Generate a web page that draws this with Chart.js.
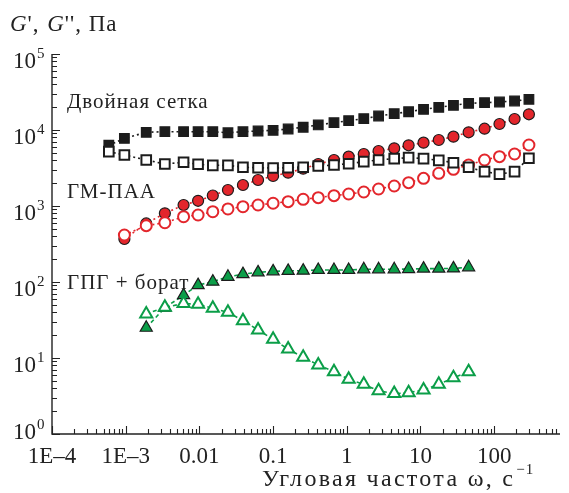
<!DOCTYPE html>
<html>
<head>
<meta charset="utf-8">
<script src="https://cdn.jsdelivr.net/npm/chart.js@4.4.0/dist/chart.umd.min.js"></script>
<style>
  html, body { margin: 0; padding: 0; background: #fff; }
</style>
</head>
<body>
<canvas id="moduliChart" width="569" height="493"></canvas>
<script>
// angular frequency, 1/s
const freqDouble = [0.00059, 0.00096, 0.0019, 0.0034, 0.0061, 0.0096, 0.0152, 0.0244, 0.039, 0.0625,
  0.1, 0.16, 0.256, 0.41, 0.67, 1.06, 1.7, 2.7, 4.4, 6.9, 11, 17.7, 28, 45, 74, 118, 189, 296];
const freqGm = [0.00096, 0.0019, 0.0034, 0.0061, 0.0096, 0.0152, 0.0244, 0.039, 0.0625,
  0.1, 0.16, 0.256, 0.41, 0.67, 1.06, 1.7, 2.7, 4.4, 6.9, 11, 17.7, 28, 45, 74, 118, 189, 296];
const freqGpg = [0.0019, 0.0034, 0.0061, 0.0096, 0.0152, 0.0244, 0.039, 0.0625,
  0.1, 0.16, 0.256, 0.41, 0.67, 1.06, 1.7, 2.7, 4.4, 6.9, 11, 17.7, 28, 45];

// moduli, Pa
const doubleG1 = [6300, 7760, 9330, 9500, 9500, 9500, 9500, 9200, 9500, 9700, 9900, 10300, 10860, 11650,
  12480, 13250, 14090, 15280, 16380, 17400, 18720, 19890, 21130, 22440, 22860, 23350, 24100, 25350];
const doubleG2 = [5190, 4690, 4030, 3570, 3760, 3540, 3430, 3430, 3230, 3190, 3160, 3190, 3230, 3360,
  3460, 3600, 3830, 4030, 4200, 4330, 4200, 3990, 3710, 3230, 2830, 2630, 2830, 4250];
const gmG1 = [368, 589, 802, 1031, 1171, 1374, 1624, 1889, 2198, 2483, 2741, 3098, 3570, 4030,
  4460, 4835, 5290, 5740, 6290, 6810, 7390, 8170, 9330, 10400, 12000, 13960, 16100];
const gmG2 = [415, 551, 603, 723, 762, 841, 914, 979, 1031, 1086, 1140, 1225, 1288, 1368,
  1439, 1529, 1674, 1833, 2027, 2313, 2693, 3040, 3460, 4030, 4460, 4835, 6350];
const gpgG1 = [25, 46, 67, 91, 101, 117, 127, 134, 138, 140, 141, 144, 144, 144, 147, 147, 147, 148, 150, 150, 151, 156];
const gpgG2 = [38, 46.5, 52, 51, 45, 40, 31, 23.4, 17.6, 13.1, 10.2, 8.1, 6.6, 5.25, 4.5, 3.7, 3.4, 3.5, 3.8, 4.5, 5.5, 6.6];

const xTickLabels = ['1E\u20134', '1E\u20133', '0.01', '0.1', '1', '10', '100'];
const yExponents = ['0', '1', '2', '3', '4', '5'];
const seriesNames = ['Двойная сетка', 'ГМ-ПАА', 'ГПГ + борат'];

const RED = '#e3262c';
const GREEN = '#0b9e48';
const BLACK = '#1c1c1c';
const SERIF = '"Liberation Serif", "DejaVu Serif", serif';

const toPoints = (xs, ys) => ys.map((y, i) => ({ x: xs[i], y: y }));

const makeSet = (label, xs, ys, style, color, filled, dash) => ({
  label: label,
  data: toPoints(xs, ys),
  borderColor: color,
  borderWidth: 1.6,
  borderDash: dash,
  pointStyle: style,
  pointRadius: style === 'rect' ? 6.8 : (style === 'triangle' ? 7 : 5.5),
  pointBackgroundColor: filled ? color : '#fff',
  pointBorderColor: filled ? BLACK : color,
  pointBorderWidth: filled ? 1.2 : 2,
  tension: 0,
  fill: false,
});

// the source font sets wider than Liberation Serif: add letter spacing
const fillSpaced = (ctx, text, x, y, spacing) => {
  ctx.save();
  ctx.letterSpacing = spacing + 'px';
  ctx.fillText(text, x, y);
  const w = ctx.measureText(text).width;
  ctx.restore();
  return w;
};

// draws axes, inward log ticks and all the text
const axesPlugin = {
  id: 'axesPlugin',
  afterDraw(chart) {
    const ctx = chart.ctx;
    const xs = chart.scales.x;
    const ys = chart.scales.y;
    const area = chart.chartArea;

    ctx.save();
    ctx.strokeStyle = '#222';
    ctx.lineWidth = 1.4;
    ctx.beginPath();
    ctx.moveTo(area.left, area.top);
    ctx.lineTo(area.left, area.bottom);
    ctx.lineTo(area.right, area.bottom);
    ctx.stroke();

    ctx.lineWidth = 1.1;
    ctx.beginPath();
    for (let e = 0; e <= 5; e++) {
      for (let m = 1; m <= 9; m++) {
        if (e === 5 && m > 1) break;
        const py = Math.round(ys.getPixelForValue(m * Math.pow(10, e))) + 0.5;
        const len = m === 1 ? 8 : 5;
        ctx.moveTo(area.left, py);
        ctx.lineTo(area.left + len, py);
      }
    }
    for (let e = -4; e <= 2; e++) {
      for (let m = 1; m <= 9; m++) {
        const v = m * Math.pow(10, e);
        if (v > xs.max) break;
        const px = Math.round(xs.getPixelForValue(v)) + 0.5;
        const len = m === 1 ? 8 : 5;
        ctx.moveTo(px, area.bottom);
        ctx.lineTo(px, area.bottom - len);
      }
    }
    ctx.stroke();

    ctx.fillStyle = '#222';
    ctx.textBaseline = 'alphabetic';
    // y tick labels 10^n
    yExponents.forEach((ex, i) => {
      const py = ys.getPixelForValue(Math.pow(10, i));
      const base = i === 0 ? py + 5 : py + 14;
      ctx.font = '23px ' + SERIF;
      ctx.textAlign = 'right';
      ctx.fillText('10', 36, base);
      ctx.font = '15px ' + SERIF;
      ctx.textAlign = 'left';
      ctx.fillText(ex, 37, base - 10);
    });

    // x tick labels
    ctx.font = '23px ' + SERIF;
    ctx.textAlign = 'center';
    xTickLabels.forEach((t, i) => {
      const px = xs.getPixelForValue(Math.pow(10, i - 4));
      ctx.fillText(t, px, 463);
    });

    // axis titles
    ctx.textAlign = 'left';
    ctx.font = 'italic 23px ' + SERIF;
    let x = 10;
    ctx.fillText('G', x, 31);
    x += ctx.measureText('G').width + 1;
    ctx.font = '23px ' + SERIF;
    x += fillSpaced(ctx, "', ", x, 31, 1) + 1;
    ctx.font = 'italic 23px ' + SERIF;
    ctx.fillText('G', x, 31);
    x += ctx.measureText('G').width + 1;
    ctx.font = '23px ' + SERIF;
    fillSpaced(ctx, "'', Па", x, 31, 1);

    ctx.font = '24px ' + SERIF;
    const tw = fillSpaced(ctx, 'Угловая частота ω, с', 262, 486, 2.3);
    ctx.font = '15px ' + SERIF;
    fillSpaced(ctx, '\u22121', 262 + tw + 1, 474, 1);

    // series names
    ctx.font = '21px ' + SERIF;
    fillSpaced(ctx, seriesNames[0], 67, 108, 1);
    fillSpaced(ctx, seriesNames[1], 67, 198, 1);
    fillSpaced(ctx, seriesNames[2], 67, 289, 1);
    ctx.restore();
  }
};

new Chart(document.getElementById('moduliChart').getContext('2d'), {
  type: 'line',
  data: {
    datasets: [
      makeSet("G'' double", freqDouble, doubleG2, 'rect', BLACK, false, [2, 3]),
      makeSet("G' double", freqDouble, doubleG1, 'rect', BLACK, true, [2, 3]),
      makeSet("G'' GM-PAA", freqGm, gmG2, 'circle', RED, false, [2, 3]),
      makeSet("G' GM-PAA", freqGm, gmG1, 'circle', RED, true, [2, 3]),
      makeSet("G'' GPG", freqGpg, gpgG2, 'triangle', GREEN, false, [4, 3]),
      makeSet("G' GPG", freqGpg, gpgG1, 'triangle', GREEN, true, [4, 3]),
    ],
  },
  options: {
    responsive: false,
    animation: false,
    layout: { padding: { left: 52, top: 54, right: 0, bottom: 59 } },
    plugins: { legend: { display: false }, tooltip: { enabled: false } },
    scales: {
      x: { type: 'logarithmic', min: 1e-4, max: Math.pow(10, 2.893), display: false },
      y: { type: 'logarithmic', min: 1, max: 1e5, display: false },
    },
  },
  plugins: [axesPlugin],
});
</script>
</body>
</html>
